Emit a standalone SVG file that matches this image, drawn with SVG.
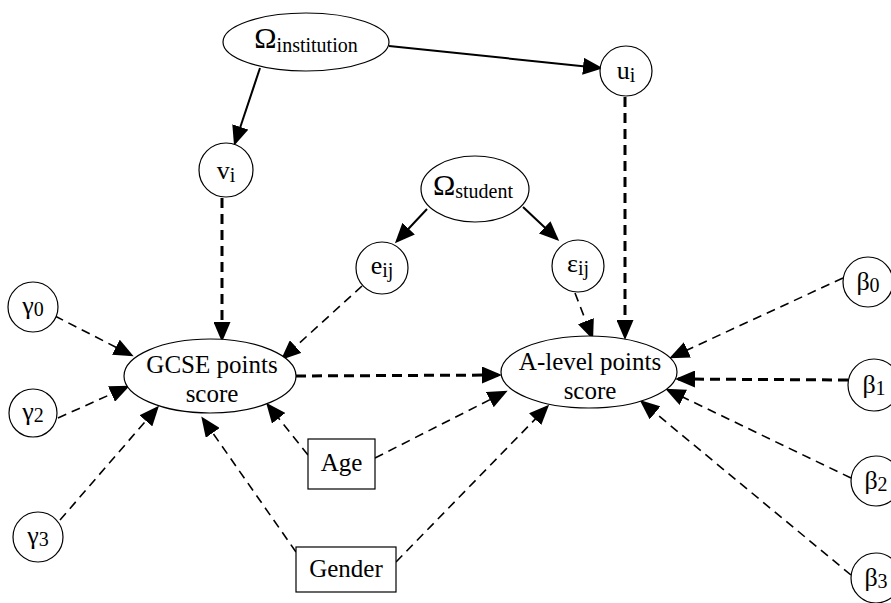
<svg xmlns="http://www.w3.org/2000/svg" width="891" height="603" viewBox="0 0 891 603">
<defs>
<marker id="ah" markerUnits="userSpaceOnUse" markerWidth="20" markerHeight="17" refX="17" refY="8.5" orient="auto" viewBox="0 0 20 17">
<path d="M0,0 L20,8.5 L0,17 z" fill="#000"/>
</marker>
</defs>
<style>
.n{fill:#fff;stroke:#000;stroke-width:1.2}
text{fill:#000;text-anchor:middle}
.m{font-size:26px}
.s{font-size:20px}
.big{font-size:30px}
.lbl{font-size:25px}
.solid{stroke:#000;stroke-width:2;fill:none;marker-end:url(#ah)}
.thin{stroke:#000;stroke-width:1.6;stroke-dasharray:9,6;fill:none;marker-end:url(#ah)}
.thick{stroke:#000;stroke-width:3;stroke-dasharray:10,6;fill:none;marker-end:url(#ah)}
</style>
<rect width="891" height="603" fill="#fff"/>
<g id="connectors">
<line class="solid" x1="389" y1="46" x2="600" y2="68"/>
<line class="solid" x1="260" y1="68" x2="235" y2="143"/>
<line class="solid" x1="427" y1="209" x2="397" y2="241"/>
<line class="solid" x1="523" y1="207" x2="557" y2="239"/>
<line class="thick" x1="222" y1="198" x2="222" y2="339"/>
<line class="thick" x1="625" y1="97" x2="625" y2="337"/>
<line class="thin" x1="362" y1="286" x2="283" y2="358"/>
<line class="thin" x1="575" y1="293" x2="592" y2="337"/>
<line class="thin" x1="55" y1="316" x2="131" y2="355"/>
<line class="thin" x1="58" y1="418" x2="127" y2="387"/>
<line class="thin" x1="60" y1="520" x2="157" y2="408"/>
<line class="thick" x1="296" y1="376" x2="499" y2="375"/>
<line class="thin" x1="308" y1="455" x2="268" y2="405"/>
<line class="thin" x1="296" y1="552" x2="203" y2="419"/>
<line class="thin" x1="375" y1="458" x2="505" y2="392"/>
<line class="thin" x1="396" y1="562" x2="547" y2="407"/>
<line class="thin" x1="843" y1="278" x2="672" y2="357"/>
<line class="thick" x1="848" y1="380" x2="678" y2="379"/>
<line class="thin" x1="851" y1="478" x2="668" y2="390"/>
<line class="thin" x1="851" y1="575" x2="642" y2="402"/>
</g>
<g font-family="Liberation Serif, DejaVu Serif, serif">
<g id="omega-institution"><ellipse class="n" cx="306" cy="42" rx="83" ry="29"/><text x="306" y="48"><tspan class="big">Ω</tspan><tspan class="s" dy="4">institution</tspan></text></g>
<g id="u-i"><ellipse class="n" cx="626" cy="71" rx="26" ry="25"/><text x="626" y="79"><tspan class="m">u</tspan><tspan class="s" dy="3">i</tspan></text></g>
<g id="v-i"><circle class="n" cx="226" cy="170" r="27"/><text x="226" y="179"><tspan class="m">v</tspan><tspan class="s" dy="3">i</tspan></text></g>
<g id="omega-student"><ellipse class="n" cx="475" cy="189" rx="54" ry="33"/><text x="473" y="195"><tspan class="big">Ω</tspan><tspan class="s" dy="3">student</tspan></text></g>
<g id="e-ij"><circle class="n" cx="382" cy="268" r="26"/><text x="382" y="274"><tspan class="m">e</tspan><tspan class="s" dy="3">ij</tspan></text></g>
<g id="eps-ij"><circle class="n" cx="578" cy="266" r="26"/><text x="578" y="272"><tspan class="m">ε</tspan><tspan class="s" dy="3">ij</tspan></text></g>
<g id="gcse"><ellipse class="n" cx="210" cy="376" rx="86" ry="37"/><text class="lbl" x="212" y="373">GCSE points</text><text class="lbl" x="212" y="402">score</text></g>
<g id="alevel"><ellipse class="n" cx="589" cy="372" rx="88" ry="36"/><text class="lbl" x="590" y="370">A-level points</text><text class="lbl" x="590" y="399">score</text></g>
<g id="gamma0"><circle class="n" cx="33" cy="307" r="25"/><text x="33" y="314"><tspan class="m">γ</tspan><tspan class="s" dy="2">0</tspan></text></g>
<g id="gamma2"><circle class="n" cx="33" cy="413" r="24"/><text x="33" y="420"><tspan class="m">γ</tspan><tspan class="s" dy="2">2</tspan></text></g>
<g id="gamma3"><circle class="n" cx="38" cy="537" r="25"/><text x="38" y="544"><tspan class="m">γ</tspan><tspan class="s" dy="2">3</tspan></text></g>
<g id="beta0"><circle class="n" cx="868" cy="282" r="25"/><text x="868" y="290"><tspan class="m">β</tspan><tspan class="s" dy="2">0</tspan></text></g>
<g id="beta1"><circle class="n" cx="874" cy="385" r="26"/><text x="874" y="393"><tspan class="m">β</tspan><tspan class="s" dy="2">1</tspan></text></g>
<g id="beta2"><circle class="n" cx="876" cy="481" r="25"/><text x="876" y="489"><tspan class="m">β</tspan><tspan class="s" dy="2">2</tspan></text></g>
<g id="beta3"><circle class="n" cx="876" cy="578" r="25"/><text x="876" y="586"><tspan class="m">β</tspan><tspan class="s" dy="2">3</tspan></text></g>
<g id="age"><rect class="n" x="308" y="439" width="67" height="50"/><text class="lbl" x="341.5" y="471">Age</text></g>
<g id="gender"><rect class="n" x="296" y="547" width="100" height="45"/><text class="lbl" x="346" y="577">Gender</text></g>
</g>
</svg>
